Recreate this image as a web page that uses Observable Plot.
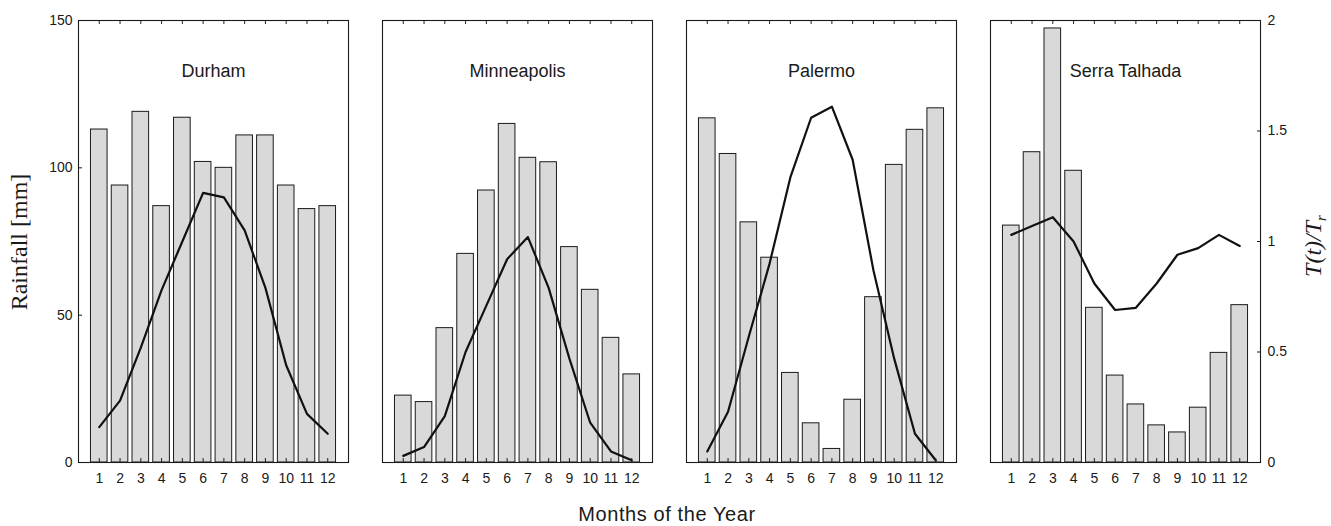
<!DOCTYPE html>
<html>
<head>
<meta charset="utf-8">
<script src="https://cdn.jsdelivr.net/npm/d3@7"></script>
<script src="https://cdn.jsdelivr.net/npm/@observablehq/plot@0.6"></script>
<style>
  html, body { margin: 0; padding: 0; background: #fff; }
  #chart { width: 1331px; height: 526px; }
</style>
</head>
<body>
<div id="chart"></div>
<script>
const cities = ["Durham", "Minneapolis", "Palermo", "Serra Talhada"];
const months = [1, 2, 3, 4, 5, 6, 7, 8, 9, 10, 11, 12];

const durhamRain = [113, 94, 119, 87, 117, 102, 100, 111, 111, 94, 86, 87];
const durhamT = [0.16, 0.28, 0.52, 0.78, 1.00, 1.22, 1.20, 1.05, 0.79, 0.44, 0.22, 0.13];

const minneapolisRain = [22.7, 20.5, 45.6, 70.8, 92.3, 114.9, 103.4, 101.9, 73.1, 58.6, 42.3, 29.9];
const minneapolisT = [0.03, 0.07, 0.21, 0.50, 0.71, 0.92, 1.02, 0.79, 0.47, 0.18, 0.05, 0.01];

const palermoRain = [116.8, 104.7, 81.5, 69.5, 30.4, 13.3, 4.6, 21.3, 56.1, 101, 112.9, 120.2];
const palermoT = [0.05, 0.23, 0.57, 0.90, 1.29, 1.56, 1.61, 1.37, 0.87, 0.47, 0.13, 0.01];

const serraRain = [80.4, 105.3, 147.3, 99, 52.5, 29.5, 19.7, 12.6, 10.2, 18.6, 37.2, 53.4];
const serraT = [1.03, 1.07, 1.11, 1.00, 0.81, 0.69, 0.70, 0.81, 0.94, 0.97, 1.03, 0.98];

const rainTicks = [0, 50, 100, 150];
const ratioTicks = [0, 0.5, 1, 1.5, 2];

const rainMax = 150;
const ratioMax = 2;
const k = rainMax / ratioMax; // map ratio axis onto rainfall axis

const series = [
  [cities[0], durhamRain, durhamT],
  [cities[1], minneapolisRain, minneapolisT],
  [cities[2], palermoRain, palermoT],
  [cities[3], serraRain, serraT]
];
const rows = series.flatMap(([city, rain, t]) =>
  months.map((m, i) => ({city, month: m, rain: rain[i], t: t[i]}))
);

const W = 1331, H = 526;
const mTop = 20, mBottom = 64, mLeft = 78, mRight = 71;
const innerH = H - mTop - mBottom;

const plot = Plot.plot({
  width: W,
  height: H,
  marginTop: mTop,
  marginBottom: mBottom,
  marginLeft: mLeft,
  marginRight: mRight,
  style: {fontFamily: "'Liberation Sans', Arial, sans-serif", fontSize: "14px", color: "#1a1a1a", background: "#fff"},
  fx: {domain: cities, paddingInner: 0.112, paddingOuter: 0, axis: null, label: null},
  x: {domain: [0, 13], axis: null},
  y: {domain: [0, rainMax], axis: null},
  marks: [
    Plot.rectY(rows, {
      fx: "city",
      x1: d => d.month - 0.4,
      x2: d => d.month + 0.4,
      y1: 0,
      y2: "rain",
      fill: "#d9d9d9",
      stroke: "#1a1a1a",
      strokeWidth: 1
    }),
    Plot.lineY(rows, {
      fx: "city",
      x: "month",
      y: d => d.t * k,
      stroke: "#111",
      strokeWidth: 2.2,
      strokeLinejoin: "round"
    }),
    Plot.tickX(months, {x: d => d, insetBottom: innerH - 4, stroke: "#222"}),
    Plot.tickX(months, {x: d => d, insetTop: innerH - 4, stroke: "#222"}),
    Plot.axisX({anchor: "bottom", ticks: months, tickSize: 0, tickPadding: 11, label: null, fill: "#1a1a1a"}),
    Plot.axisY({anchor: "left", ticks: rainTicks, tickSize: -4, tickPadding: 10, label: null, fill: "#1a1a1a"}),
    Plot.axisY({anchor: "right", ticks: ratioTicks.map(v => v * k), tickFormat: d => String(d / k), tickSize: -4, tickPadding: 11, label: null, fill: "#1a1a1a"}),
    Plot.frame({stroke: "#1a1a1a", strokeWidth: 1.1}),
    Plot.text(cities, {fx: d => d, text: d => d, frameAnchor: "top", dy: 44, fontSize: 18, fill: "#1a1a1a"})
  ]
});

document.getElementById("chart").appendChild(plot);

const svg = d3.select(plot);
svg.append("text")
  .attr("x", 667).attr("y", 521)
  .attr("text-anchor", "middle")
  .style("font-family", "'Liberation Sans', Arial, sans-serif")
  .style("font-size", "20px")
  .style("letter-spacing", "0.6px")
  .attr("fill", "#1a1a1a")
  .text("Months of the Year");

svg.append("text")
  .attr("transform", "translate(21,242) rotate(-90)")
  .attr("text-anchor", "middle")
  .attr("dominant-baseline", "middle")
  .style("font-family", "'Liberation Serif', 'Times New Roman', serif")
  .style("font-size", "24px")
  .attr("fill", "#1a1a1a")
  .text("Rainfall [mm]");

const tl = svg.append("text")
  .attr("transform", "translate(1315,246) rotate(-90)")
  .attr("text-anchor", "middle")
  .attr("dominant-baseline", "middle")
  .style("font-family", "'Liberation Serif', 'Times New Roman', serif")
  .style("font-style", "italic")
  .style("font-size", "24px")
  .attr("fill", "#1a1a1a");
tl.append("tspan").text("T(t)/T");
tl.append("tspan").attr("baseline-shift", "sub").style("font-size", "15px").text("r");
</script>
</body>
</html>
